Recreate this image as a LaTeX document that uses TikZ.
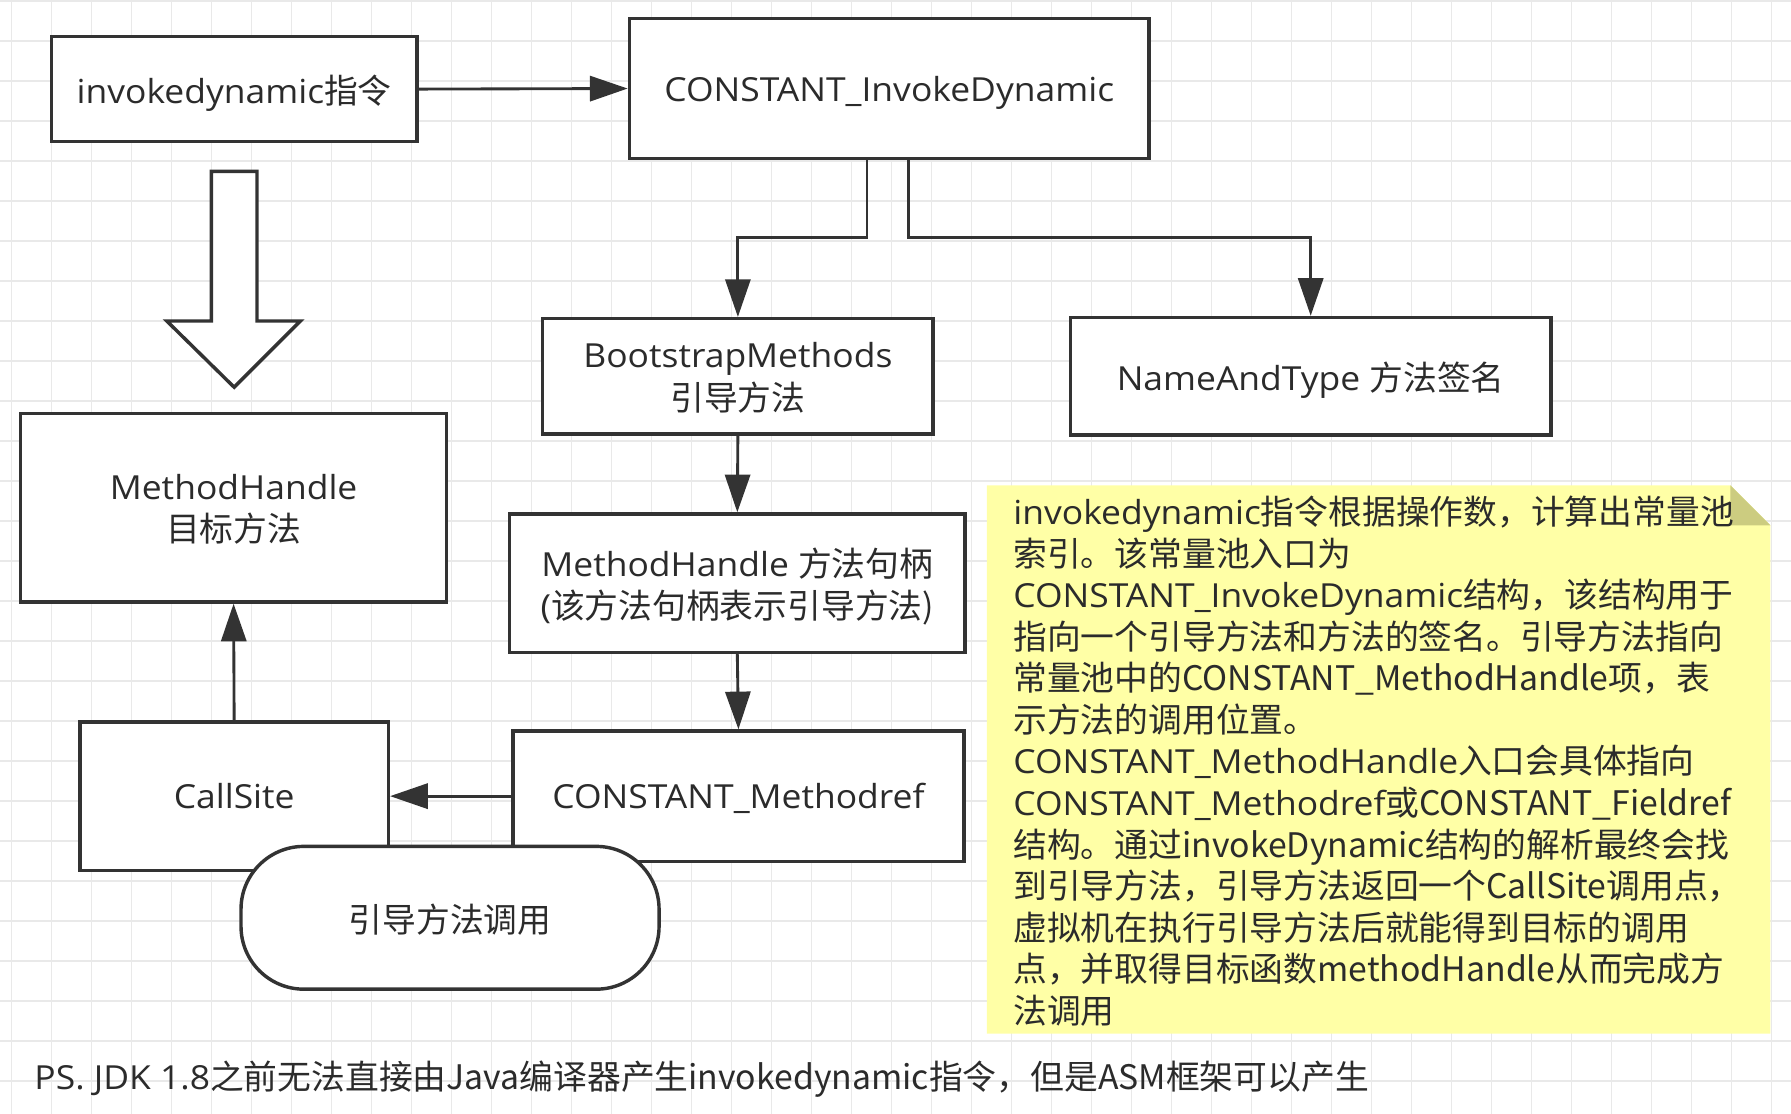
\documentclass[tikz,border=0pt]{standalone}
\usepackage{fontspec}
\setmainfont[FakeStretch=1.07]{Open Sans}
\newfontfamily\cjk[Scale=1.02]{Noto Sans CJK SC}
\usetikzlibrary{arrows.meta,calc}
\definecolor{ink}{HTML}{333333}
\definecolor{txt}{HTML}{2B2B2B}
\definecolor{gridc}{HTML}{E9E9E9}
\definecolor{notey}{HTML}{FFFFA6}
\definecolor{foldc}{HTML}{CCCC80}
\newcommand{\tfont}{\fontsize{29}{37}\selectfont}
\newcommand{\nfont}{\fontsize{29}{36.4}\selectfont}
\begin{document}
\begin{tikzpicture}[x=1pt,y=-1pt,
  box/.style={draw=ink, line width=3pt, fill=white, text=txt, font=\tfont, align=center, inner sep=0pt, text depth=0pt},
  arr/.style={draw=ink, line width=2.5pt, -{Triangle[length=33pt,width=22pt]}},
  gridline/.style={draw=gridc, line width=1.2pt},
  plaintext/.style={text=txt, font=\tfont, inner sep=0pt},
]
\useasboundingbox (0,0) rectangle (1568,975);
\fill[white] (0,0) rectangle (1568,975);
% grid
\foreach \i in {0,...,44} \draw[gridline] (10.2+35.02*\i,0) -- (10.2+35.02*\i,975);
\foreach \j in {0,...,27} \draw[gridline] (0,1+35.02*\j) -- (1568,1+35.02*\j);

% note background
\fill[notey] (864,425) -- (1515,425) -- (1550,460) -- (1550,905) -- (864,905) -- cycle;
\fill[foldc] (1515,425) -- (1515,460) -- (1550,460) -- cycle;

% boxes
\node[box, minimum width=320pt, minimum height=92pt] (inv) at (205,78) {invokedynamic\cjk{指令}};
\node[box, minimum width=455pt, minimum height=123pt] (ci) at (778.5,77.5) {CONSTANT\_InvokeDynamic};
\node[box, minimum width=342pt, minimum height=101pt] (bm) at (646,329.5) {BootstrapMethods\\\cjk{引导方法}};
\node[box, minimum width=421pt, minimum height=103pt] (nt) at (1147.5,329.5) {NameAndType \cjk{方法签名}};
\node[box, minimum width=373pt, minimum height=165pt] (tm) at (204.5,444.5) {MethodHandle\\\cjk{目标方法}};
\node[box, minimum width=399pt, minimum height=121pt] (mh) at (645.5,510.5) {MethodHandle \cjk{方法句柄}\\(\cjk{该方法句柄表示引导方法})};
\node[box, minimum width=395pt, minimum height=114pt] (mr) at (646.5,697) {CONSTANT\_Methodref};
\node[box, minimum width=270pt, minimum height=130pt] (cs) at (205,697) {CallSite};

% hollow block arrow
\draw[ink, line width=3pt, fill=white, line join=miter] (185,150) -- (225,150) -- (225,281) -- (263,281) -- (205,339) -- (146,281) -- (185,281) -- cycle;

% connectors
\coordinate (j1) at (0,208);
\draw[arr] (inv.east) -- (ci.west);
\draw[arr] ([xshift=-19.5pt]ci.south) |- (bm.north |- j1) -- (bm.north);
\draw[arr] ([xshift=16.5pt]ci.south) |- (nt.north |- j1) -- (nt.north);
\draw[arr] (bm.south) -- (mh.north);
\draw[arr] (mh.south) -- (mr.north);
\draw[arr] (mr.west) -- (cs.east);
\draw[arr] (cs.north) -- (tm.south);

% rounded node
\node[box, rounded corners=55pt, minimum width=366pt, minimum height=125pt] (call) at (394,803.5) {\cjk{引导方法调用}};

% note text
\node[plaintext, font=\nfont, anchor=north west, align=left] (note) at (887,434) {%
invokedynamic\cjk{指令根据操作数，计算出常量池}\\
\cjk{索引。该常量池入口为}\\
CONSTANT\_InvokeDynamic\cjk{结构，该结构用于}\\
\cjk{指向一个引导方法和方法的签名。引导方法指向}\\
\cjk{常量池中的}CONSTANT\_MethodHandle\cjk{项，表}\\
\cjk{示方法的调用位置。}\\
CONSTANT\_MethodHandle\cjk{入口会具体指向}\\
CONSTANT\_Methodref\cjk{或}CONSTANT\_Fieldref\\
\cjk{结构。通过}invokeDynamic\cjk{结构的解析最终会找}\\
\cjk{到引导方法，引导方法返回一个}CallSite\cjk{调用点，}\\
\cjk{虚拟机在执行引导方法后就能得到目标的调用}\\
\cjk{点，并取得目标函数}methodHandle\cjk{从而完成方}\\
\cjk{法调用}};

% footer
\node[plaintext, anchor=base west] (ps) at (30,954) {PS. JDK 1.8\cjk{之前无法直接由}Java\cjk{编译器产生}invokedynamic\cjk{指令，但是}ASM\cjk{框架可以产生}};
\end{tikzpicture}
\end{document}
